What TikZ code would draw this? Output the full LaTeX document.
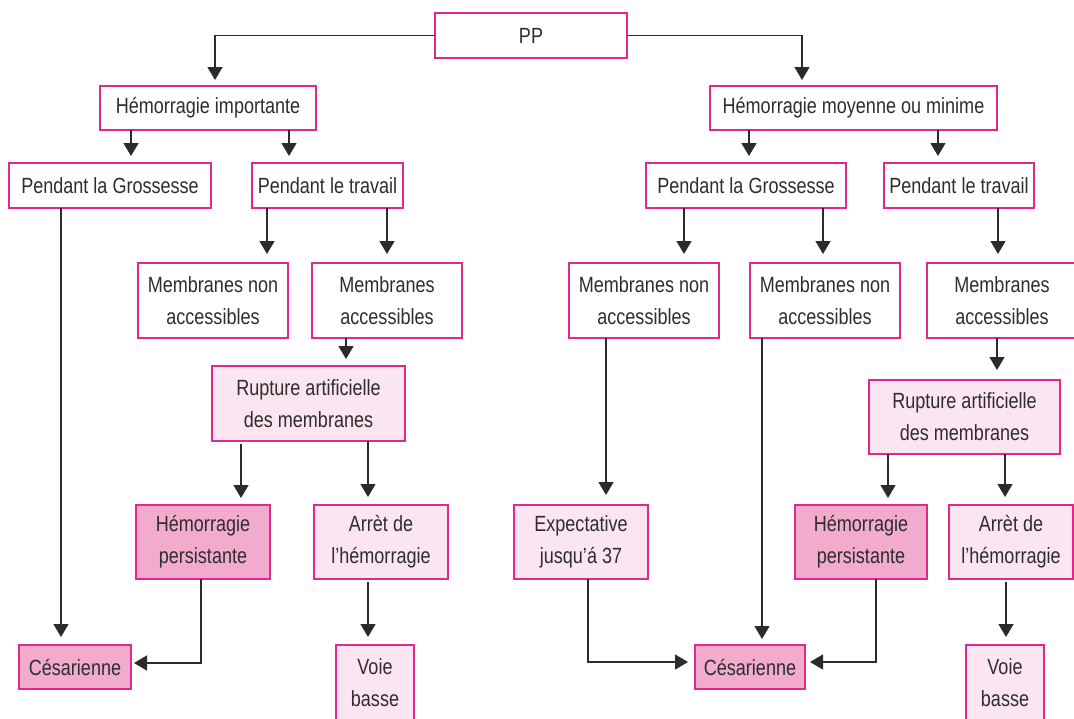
\documentclass[tikz,border=0pt]{standalone}
\usepackage{fontspec}
\setmainfont{Liberation Sans}[FakeStretch=0.82]
\usetikzlibrary{arrows.meta}
\definecolor{rim}{HTML}{E2288C}
\definecolor{palepink}{HTML}{FBE5F0}
\definecolor{deeppink}{HTML}{F2AACD}
\definecolor{ink}{HTML}{2E2E2E}
\definecolor{wire}{HTML}{2B2B2B}
\tikzset{
  box/.style={draw=rim, line width=1.4pt, fill=white, text=ink, inner sep=0pt, outer sep=0pt,
    align=center, font=\fontsize{22}{32}\selectfont, anchor=center},
  softbox/.style={box, fill=palepink},
  keybox/.style={box, fill=deeppink},
  arr/.style={draw=wire, line width=1.4pt, -{Triangle[length=13pt,width=15pt]}},
}
\begin{document}
\begin{tikzpicture}[x=1pt, y=-1pt]
\useasboundingbox (0,0) rectangle (1074,718);

% top
\node[box, minimum width=192, minimum height=45] (pp) at (531,35.5) {PP};

% severity
\node[box, minimum width=216, minimum height=44] (hi) at (208,108) {Hémorragie importante};
\node[box, minimum width=287, minimum height=44] (hm) at (853.5,108) {Hémorragie moyenne ou minime};

% timing
\node[box, minimum width=202, minimum height=45] (pgl) at (110,185.5) {Pendant la Grossesse};
\node[box, minimum width=151, minimum height=45] (ptl) at (327.5,185.5) {Pendant le travail};
\node[box, minimum width=200, minimum height=45] (pgr) at (746,185.5) {Pendant la Grossesse};
\node[box, minimum width=150, minimum height=45] (ptr) at (959,185.5) {Pendant le travail};

% membranes
\node[box, minimum width=150, minimum height=75] (mnal) at (213,300.5) {Membranes non\\accessibles};
\node[box, minimum width=150, minimum height=75] (mal) at (387,300.5) {Membranes\\accessibles};
\node[box, minimum width=150, minimum height=75] (mnar1) at (644,300.5) {Membranes non\\accessibles};
\node[box, minimum width=150, minimum height=75] (mnar2) at (825,300.5) {Membranes non\\accessibles};
\node[box, minimum width=150, minimum height=75] (mar) at (1002,300.5) {Membranes\\accessibles};

% amniotomy
\node[softbox, minimum width=193, minimum height=75] (rupl) at (308.5,403.5) {Rupture artificielle\\des membranes};
\node[softbox, minimum width=191, minimum height=74] (rupr) at (964.5,417) {Rupture artificielle\\des membranes};

% outcomes
\node[keybox, minimum width=134, minimum height=74] (hpl) at (203,542) {Hémorragie\\persistante};
\node[softbox, minimum width=134, minimum height=74] (ahl) at (381,542) {Arrèt de\\l’hémorragie};
\node[softbox, minimum width=134, minimum height=74] (exp) at (581,542) {Expectative\\jusqu’á 37};
\node[keybox, minimum width=132, minimum height=74] (hpr) at (861,542) {Hémorragie\\persistante};
\node[softbox, minimum width=124, minimum height=74] (ahr) at (1011,542) {Arrèt de\\l’hémorragie};

% delivery
\node[keybox, minimum width=112, minimum height=44] (cesl) at (75,667) {Césarienne};
\node[softbox, minimum width=78, minimum height=75] (vbl) at (375,682.5) {Voie\\basse};
\node[keybox, minimum width=110, minimum height=44] (cesr) at (750,667) {Césarienne};
\node[softbox, minimum width=78, minimum height=75] (vbr) at (1005,682.5) {Voie\\basse};

% connectors
\draw[arr, shorten >=6pt] (pp.west) -| (hi.north -| 215,0);
\draw[arr, shorten >=6pt] (pp.east) -| (hm.north -| 802,0);

\draw[arr, shorten >=7pt] (hi.south -| 131,0) -- (pgl.north -| 131,0);
\draw[arr, shorten >=7pt] (hi.south -| 289,0) -- (ptl.north -| 289,0);
\draw[arr, shorten >=7pt] (hm.south -| 749,0) -- (pgr.north -| 749,0);
\draw[arr, shorten >=7pt] (hm.south -| 938,0) -- (ptr.north -| 938,0);

\draw[arr, shorten >=9pt] (ptl.south -| 267,0) -- (mnal.north -| 267,0);
\draw[arr, shorten >=9pt] (ptl.south -| 387,0) -- (mal.north -| 387,0);
\draw[arr, shorten >=9pt] (pgr.south -| 684,0) -- (mnar1.north -| 684,0);
\draw[arr, shorten >=9pt] (pgr.south -| 823,0) -- (mnar2.north -| 823,0);
\draw[arr, shorten >=9pt] (ptr.south -| 998,0) -- (mar.north -| 998,0);

\draw[arr, shorten >=7pt] (mal.south -| 346,0) -- (rupl.north -| 346,0);
\draw[arr, shorten >=10pt] (mar.south -| 997,0) -- (rupr.north -| 997,0);

\draw[arr, shorten >=7pt, shorten <=3pt] (rupl.south -| 241,0) -- (hpl.north -| 241,0);
\draw[arr, shorten >=8pt] (rupl.south -| 368,0) -- (ahl.north -| 368,0);
\draw[arr, shorten >=7pt] (rupr.south -| 888,0) -- (hpr.north -| 888,0);
\draw[arr, shorten >=8pt] (rupr.south -| 1005,0) -- (ahr.north -| 1005,0);

\draw[arr, shorten >=8pt, shorten <=3pt] (ahl.south -| 368,0) -- (vbl.north -| 368,0);
\draw[arr, shorten >=8pt, shorten <=3pt] (ahr.south -| 1006,0) -- (vbr.north -| 1006,0);

\draw[arr, shorten >=8pt] (pgl.south -| 61,0) -- (cesl.north -| 61,0);
\draw[arr, shorten >=10pt] (mnar1.south -| 606,0) -- (exp.north -| 606,0);
\draw[arr, shorten >=6pt] (mnar2.south -| 762,0) -- (cesr.north -| 762,0);

\draw[arr, shorten >=3pt] (hpl.south -| 201,0) |- ([yshift=4pt]cesl.east);
\draw[arr, shorten >=7pt] (exp.south -| 588,0) |- ([yshift=5pt]cesr.west);
\draw[arr, shorten >=5pt] (hpr.south -| 876,0) |- ([yshift=5pt]cesr.east);
\end{tikzpicture}
\end{document}
